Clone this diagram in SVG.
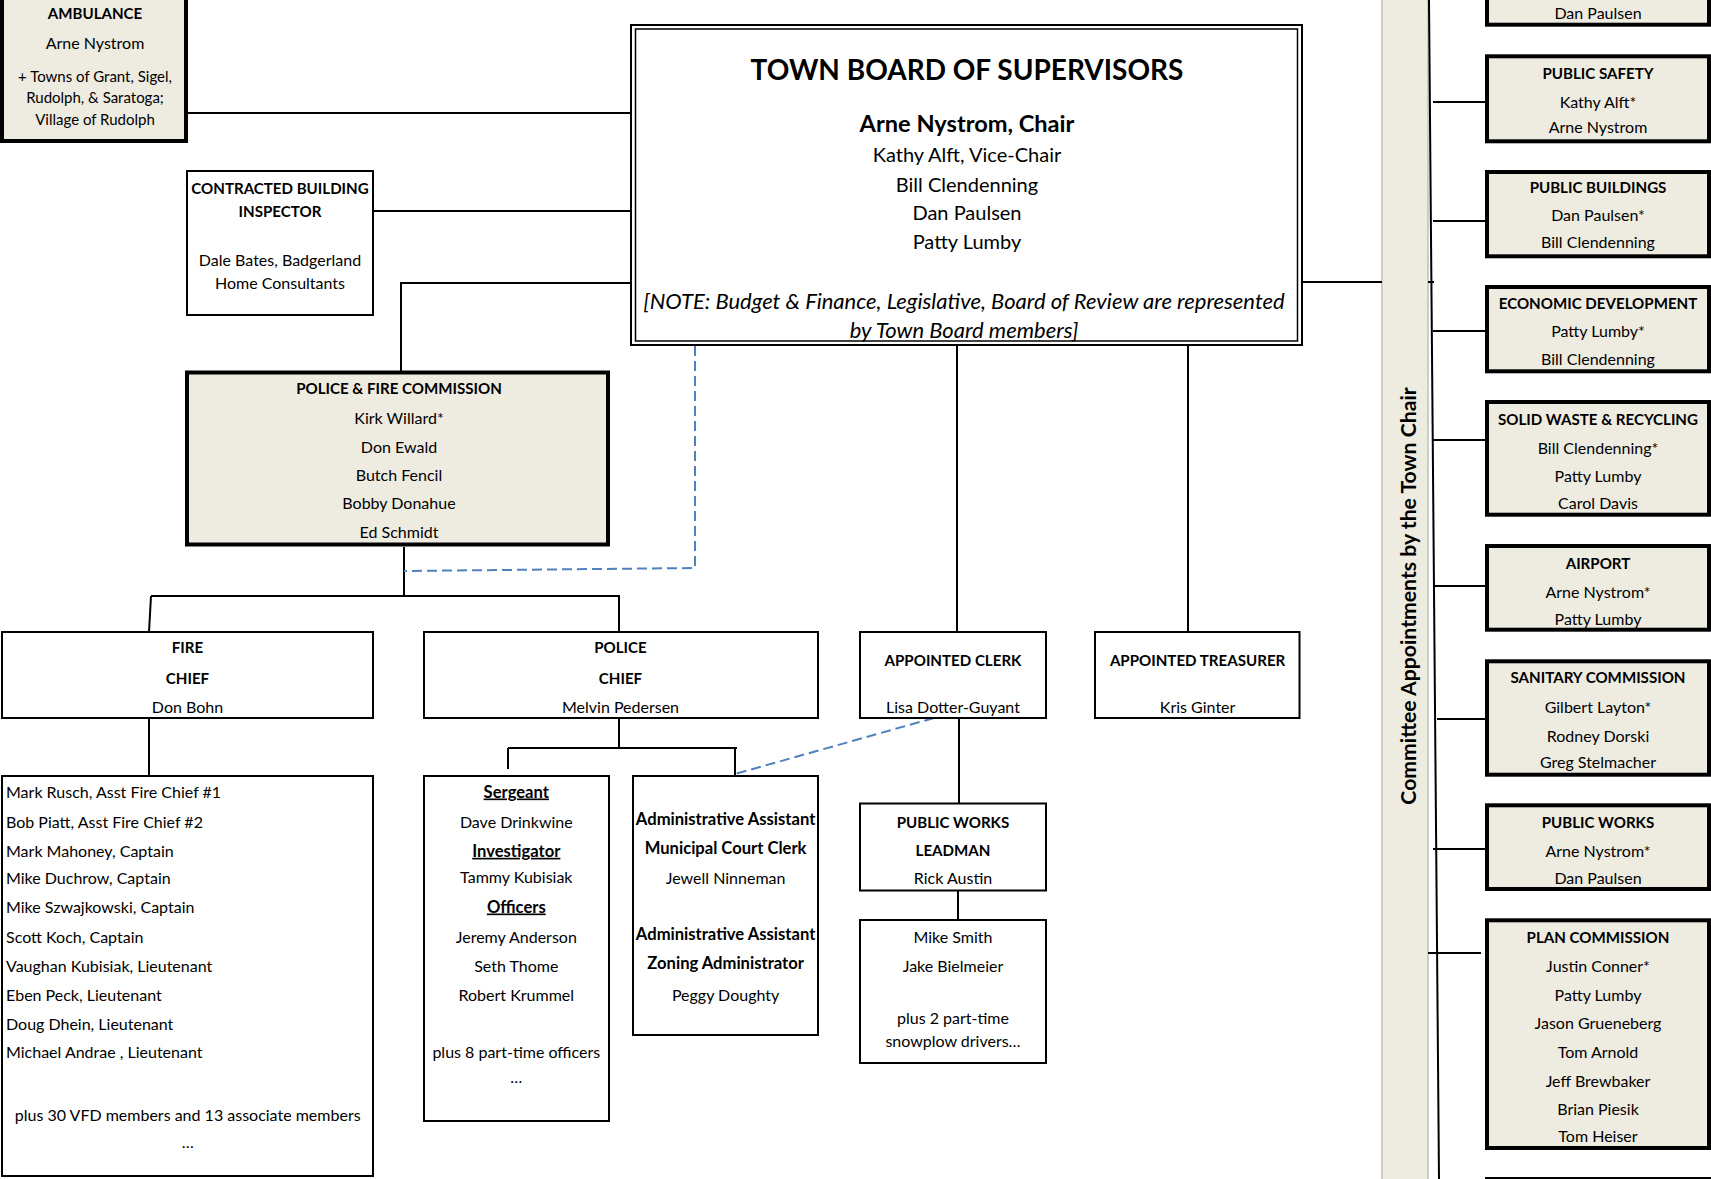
<svg xmlns="http://www.w3.org/2000/svg" width="1711" height="1179" viewBox="0 0 1711 1179">
<style>
.box{fill:#fff;stroke:#000;stroke-width:2}
.cbox{fill:#EEECE1;stroke:#000;stroke-width:4}
.ln{stroke:#000;stroke-width:2;fill:none}
.dash{stroke:#4F81BD;stroke-width:2;stroke-dasharray:10 5;fill:none}
text{font-family:Lato,"Liberation Sans",sans-serif;font-size:16px;fill:#000}
.c{text-anchor:middle}
.b{font-weight:bold}
.h{font-weight:bold;font-size:15.1px}
.bm{font-weight:bold;font-size:16.6px}
.u{text-decoration:underline}
.s{font-size:15px}
</style>
<rect width="1711" height="1179" fill="#fff"/>
<g id="band">
<rect x="1382" y="-5" width="46" height="1190" fill="#EEECE1" stroke="#BFBFBF" stroke-width="1.5"/>
<text class="c b" transform="translate(1416,596) rotate(-90)" style="font-size:21.2px">Committee Appointments by the Town Chair</text>
</g>
<g id="connectors">
<path class="ln" d="M188 113 H631"/>
<path class="ln" d="M373 211 H631"/>
<path class="ln" d="M631 283 H401 V371"/>
<path class="ln" d="M957 345 V632"/>
<path class="ln" d="M1188 345 V632"/>
<path class="ln" d="M1302 282 H1382 M1428 282 H1434"/>
<path class="ln" d="M404 547 V596 M151 596 H620 M151 596 L149 632 M619 596 V632"/>
<path class="ln" d="M149 718 V776"/>
<path class="ln" d="M619 718 V748 M508 748 H737 M508 748 V769 M735 748 V776"/>
<path class="ln" d="M959 718 V803"/>
<path class="ln" d="M958 891 V920"/>
<path class="ln" d="M1429 0 L1439 1179" stroke-width="1.5"/>
<path class="ln" d="M1433 102 H1485 M1433 221 H1485 M1433 331 H1485 M1433 440 H1485 M1434 586 H1485 M1437 719 H1489 M1433 849 H1485 M1428 953 H1481"/>
<path class="dash" d="M695 346 V568 L404 571"/>
<path class="dash" d="M934 718 L735 774"/>
</g>
<g id="ambulance">
<rect class="cbox" x="2" y="-10" width="184" height="151"/>
<text class="c h" x="95" y="19">AMBULANCE</text>
<text class="c" x="95" y="48.5">Arne Nystrom</text>
<text class="c s" x="95" y="82.3">+ Towns of Grant, Sigel,</text>
<text class="c s" x="95" y="103.3">Rudolph, &amp; Saratoga;</text>
<text class="c s" x="95" y="125">Village of Rudolph</text>
</g>
<g id="inspector">
<rect class="box" x="187" y="171" width="186" height="144"/>
<text class="c h" x="280" y="193.5">CONTRACTED BUILDING</text>
<text class="c h" x="280" y="216.5">INSPECTOR</text>
<text class="c" x="280" y="265.8">Dale Bates, Badgerland</text>
<text class="c" x="280" y="288.5">Home Consultants</text>
</g>
<g id="board">
<rect x="631" y="25" width="671" height="320" fill="#fff" stroke="#000" stroke-width="2"/>
<rect x="635.5" y="29" width="662" height="312" fill="none" stroke="#000" stroke-width="1.5"/>
<text class="c b" x="967" y="80" style="font-size:28px">TOWN BOARD OF SUPERVISORS</text>
<text class="c b" x="967" y="132" style="font-size:23.6px">Arne Nystrom, Chair</text>
<text class="c" x="967" y="162" style="font-size:20px">Kathy Alft, Vice-Chair</text>
<text class="c" x="967" y="192" style="font-size:20px">Bill Clendenning</text>
<text class="c" x="967" y="220" style="font-size:20px">Dan Paulsen</text>
<text class="c" x="967" y="249" style="font-size:20px">Patty Lumby</text>
<text class="c" x="964" y="309" style="font-size:22px;font-style:italic">[NOTE: Budget &amp; Finance, Legislative, Board of Review are represented</text>
<text class="c" x="964" y="338" style="font-size:22px;font-style:italic">by Town Board members]</text>
</g>
<g id="pfc">
<rect class="cbox" x="187" y="372.5" width="421" height="172"/>
<text class="c h" x="399" y="393.5">POLICE &amp; FIRE COMMISSION</text>
<text class="c" x="399" y="424.1">Kirk Willard*</text>
<text class="c" x="399" y="453.1">Don Ewald</text>
<text class="c" x="399" y="481.1">Butch Fencil</text>
<text class="c" x="399" y="509.1">Bobby Donahue</text>
<text class="c" x="399" y="537.5">Ed Schmidt</text>
</g>
<g id="fire-chief">
<rect class="box" x="2" y="632" width="371" height="86"/>
<text class="c h" x="187.5" y="653.1">FIRE</text>
<text class="c h" x="187.5" y="683.5">CHIEF</text>
<text class="c" x="187.5" y="712.5">Don Bohn</text>
</g>
<g id="police-chief">
<rect class="box" x="424" y="632" width="394" height="86"/>
<text class="c h" x="620.5" y="653.1">POLICE</text>
<text class="c h" x="620.5" y="683.5">CHIEF</text>
<text class="c" x="620.5" y="712.5">Melvin Pedersen</text>
</g>
<g id="clerk">
<rect class="box" x="860" y="632" width="186" height="86"/>
<text class="c h" x="953" y="665.8">APPOINTED CLERK</text>
<text class="c" x="953" y="712.5">Lisa Dotter-Guyant</text>
</g>
<g id="treasurer">
<rect class="box" x="1095" y="632" width="204.5" height="86"/>
<text class="c h" x="1197.6" y="665.8">APPOINTED TREASURER</text>
<text class="c" x="1197.6" y="712.5">Kris Ginter</text>
</g>
<g id="fire-list">
<rect class="box" x="2" y="776" width="371" height="400"/>
<text x="6" y="797.5">Mark Rusch, Asst Fire Chief #1</text>
<text x="6" y="827.5">Bob Piatt, Asst Fire Chief #2</text>
<text x="6" y="856.5">Mark Mahoney, Captain</text>
<text x="6" y="883.5">Mike Duchrow, Captain</text>
<text x="6" y="912.5">Mike Szwajkowski, Captain</text>
<text x="6" y="942.5">Scott Koch, Captain</text>
<text x="6" y="971.5">Vaughan Kubisiak, Lieutenant</text>
<text x="6" y="1000.5">Eben Peck, Lieutenant</text>
<text x="6" y="1029.5">Doug Dhein, Lieutenant</text>
<text x="6" y="1057.5">Michael Andrae , Lieutenant</text>
<text class="c" x="187.7" y="1121.1">plus 30 VFD members and 13 associate members</text>
<text class="c" x="187.7" y="1147.5">…</text>
</g>
<g id="police-staff">
<rect class="box" x="424" y="776" width="185" height="345"/>
<text class="c bm u" x="516.3" y="797.5">Sergeant</text>
<text class="c" x="516.3" y="827.5">Dave Drinkwine</text>
<text class="c bm u" x="516.3" y="856.8">Investigator</text>
<text class="c" x="516.3" y="883.1">Tammy Kubisiak</text>
<text class="c bm u" x="516.3" y="912.5">Officers</text>
<text class="c" x="516.3" y="942.5">Jeremy Anderson</text>
<text class="c" x="516.3" y="971.5">Seth Thome</text>
<text class="c" x="516.3" y="1000.5">Robert Krummel</text>
<text class="c" x="516.3" y="1057.5">plus 8 part-time officers</text>
<text class="c" x="516.3" y="1082.5">…</text>
</g>
<g id="admin">
<rect class="box" x="633" y="776" width="185" height="259"/>
<text class="c bm" x="725.6" y="825.1">Administrative Assistant</text>
<text class="c bm" x="725.6" y="853.5">Municipal Court Clerk</text>
<text class="c" x="725.6" y="883.5">Jewell Ninneman</text>
<text class="c bm" x="725.6" y="940.1">Administrative Assistant</text>
<text class="c bm" x="725.6" y="969.1">Zoning Administrator</text>
<text class="c" x="725.6" y="1000.8">Peggy Doughty</text>
</g>
<g id="leadman">
<rect class="box" x="860" y="803.5" width="186" height="87"/>
<text class="c h" x="953" y="827.5">PUBLIC WORKS</text>
<text class="c h" x="953" y="855.8">LEADMAN</text>
<text class="c" x="953" y="883.5">Rick Austin</text>
</g>
<g id="crew">
<rect class="box" x="860" y="920" width="186" height="143"/>
<text class="c" x="953" y="942.5">Mike Smith</text>
<text class="c" x="953" y="971.5">Jake Bielmeier</text>
<text class="c" x="953" y="1023.5">plus 2 part-time</text>
<text class="c" x="953" y="1046.5">snowplow drivers…</text>
</g>
<g id="cmt-top">
<rect class="cbox" x="1487" y="-58" width="222" height="82.7"/>
<text class="c" x="1598" y="19">Dan Paulsen</text>
</g>
<g id="cmt-public-safety">
<rect class="cbox" x="1487" y="56.3" width="222" height="85"/>
<text class="c h" x="1598" y="78.5">PUBLIC SAFETY</text>
<text class="c" x="1598" y="107.5">Kathy Alft*</text>
<text class="c" x="1598" y="132.5">Arne Nystrom</text>
</g>
<g id="cmt-public-buildings">
<rect class="cbox" x="1487" y="172" width="222" height="84.3"/>
<text class="c h" x="1598" y="192.5">PUBLIC BUILDINGS</text>
<text class="c" x="1598" y="220.8">Dan Paulsen*</text>
<text class="c" x="1598" y="248.1">Bill Clendenning</text>
</g>
<g id="cmt-economic">
<rect class="cbox" x="1487" y="287" width="222" height="84.3"/>
<text class="c h" x="1598" y="309.1">ECONOMIC DEVELOPMENT</text>
<text class="c" x="1598" y="336.8">Patty Lumby*</text>
<text class="c" x="1598" y="365.1">Bill Clendenning</text>
</g>
<g id="cmt-solid-waste">
<rect class="cbox" x="1487" y="402" width="222" height="112.7"/>
<text class="c h" x="1598" y="424.8">SOLID WASTE &amp; RECYCLING</text>
<text class="c" x="1598" y="453.5">Bill Clendenning*</text>
<text class="c" x="1598" y="481.8">Patty Lumby</text>
<text class="c" x="1598" y="509.1">Carol Davis</text>
</g>
<g id="cmt-airport">
<rect class="cbox" x="1487" y="546" width="222" height="83.7"/>
<text class="c h" x="1598" y="568.5">AIRPORT</text>
<text class="c" x="1598" y="597.5">Arne Nystrom*</text>
<text class="c" x="1598" y="624.8">Patty Lumby</text>
</g>
<g id="cmt-sanitary">
<rect class="cbox" x="1487" y="661.3" width="222" height="113.4"/>
<text class="c h" x="1598" y="683.1">SANITARY COMMISSION</text>
<text class="c" x="1598" y="712.5">Gilbert Layton*</text>
<text class="c" x="1598" y="741.5">Rodney Dorski</text>
<text class="c" x="1598" y="768.1">Greg Stelmacher</text>
</g>
<g id="cmt-public-works">
<rect class="cbox" x="1487" y="805.3" width="222" height="83.7"/>
<text class="c h" x="1598" y="827.5">PUBLIC WORKS</text>
<text class="c" x="1598" y="856.5">Arne Nystrom*</text>
<text class="c" x="1598" y="883.5">Dan Paulsen</text>
</g>
<g id="cmt-plan">
<rect class="cbox" x="1487" y="920.3" width="222" height="227.7"/>
<text class="c h" x="1598" y="942.5">PLAN COMMISSION</text>
<text class="c" x="1598" y="971.5">Justin Conner*</text>
<text class="c" x="1598" y="1000.8">Patty Lumby</text>
<text class="c" x="1598" y="1029.1">Jason Grueneberg</text>
<text class="c" x="1598" y="1057.5">Tom Arnold</text>
<text class="c" x="1598" y="1086.5">Jeff Brewbaker</text>
<text class="c" x="1598" y="1115.1">Brian Piesik</text>
<text class="c" x="1598" y="1141.8">Tom Heiser</text>
</g>
<g id="cmt-next">
<rect class="cbox" x="1487" y="1179" width="222" height="100"/>
</g>
</svg>
